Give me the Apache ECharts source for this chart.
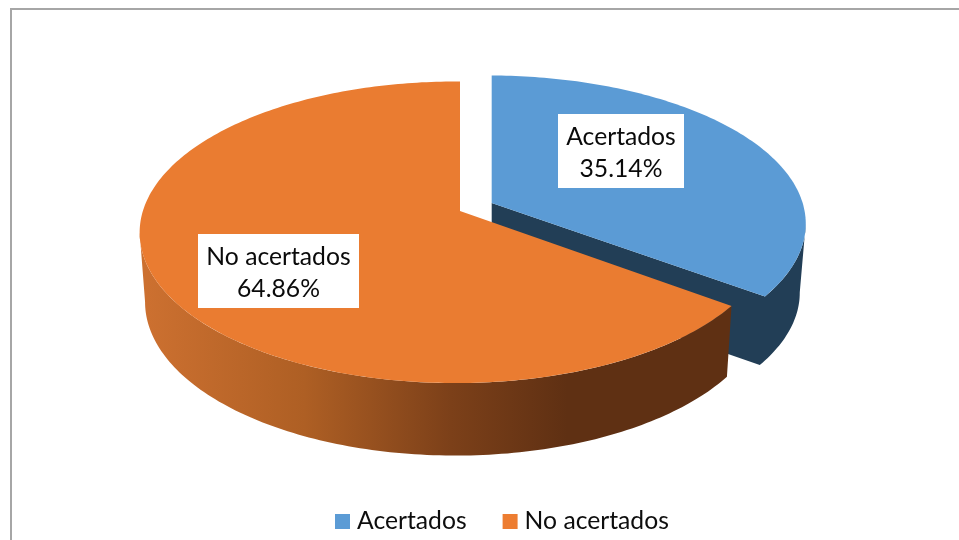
<!DOCTYPE html>
<html>
<head>
<meta charset="utf-8">
<style>html,body{margin:0;padding:0;background:#fff}#c{width:959px;height:540px}</style>
<script src="https://cdn.jsdelivr.net/npm/echarts@6/dist/echarts.min.js"></script>
</head>
<body>
<div id="c"></div>
<script>
const categories = ['Acertados', 'No acertados'];
const shares = [35.14, 64.86];
const topColors = ['#5b9bd5', '#ea7c31'];
const legendColors = ['#5b9bd5', '#ed7d31'];

// Projection of each exploded slice (perspective view of a disc).
const K = 0.141, M = 0.013;
const views = [
  {ax: 491.7, ay: 203, R: 315, S: 145.5, bx: 491.7, by: 272, bR: 309, bS: 145, wallTo: 98},
  {ax: 460, ay: 211, R: 313, S: 147.8, bx: 460, by: 280, bR: 307.7, bS: 150.8, wallTo: 262}
];
const labelBoxes = [
  {x: 558, y: 114, w: 126, h: 74},
  {x: 198, y: 234, w: 161, h: 74}
];
const FONT = 'Lato, "Open Sans", sans-serif';
const total = shares.reduce((a, b) => a + b, 0);

function project(v, deg, lower) {
  const t = deg * Math.PI / 180, u = Math.sin(t), d = -Math.cos(t);
  const w = 1 - K * d + M * u;
  return lower
    ? [v.bx + v.bR * u / w, v.by + v.bS * d / w]
    : [v.ax + v.R * u / w, v.ay + v.S * d / w];
}
function arc(v, a, b, lower) {
  const pts = [], n = Math.max(2, Math.ceil(Math.abs(b - a)));
  for (let i = 0; i <= n; i++) pts.push(project(v, a + (b - a) * i / n, lower));
  return pts;
}
function poly(points, fill) {
  return {type: 'polygon', shape: {points}, style: {fill, stroke: null}, silent: true};
}
function sliceRenderer(idx) {
  return function (params, api) {
    const value = api.value(0);
    let before = 0;
    for (let i = 0; i < idx; i++) before += shares[i];
    const a0 = before / total * 360, a1 = a0 + value / total * 360;
    const v = views[idx];
    const children = [];
    if (idx === 0) {
      children.push(poly([[v.ax, v.ay]]
        .concat(arc(v, a1, v.wallTo, false))
        .concat(arc(v, v.wallTo, a1, true))
        .concat([[v.bx, v.by]]), '#223e56'));
    } else {
      const grad = new echarts.graphic.LinearGradient(147, 0, 731, 0, [
        {offset: 0, color: '#cc7030'},
        {offset: 0.27, color: '#ae5f24'},
        {offset: 0.52, color: '#7c4019'},
        {offset: 0.72, color: '#5f3013'},
        {offset: 1, color: '#5f3013'}
      ], true);
      children.push(poly(arc(v, a0, v.wallTo, false).concat(arc(v, a0, v.wallTo, true).reverse()), grad));
    }
    children.push(poly([[v.ax, v.ay]].concat(arc(v, a0, a1, false)), topColors[idx]));
    const b = labelBoxes[idx];
    children.push({type: 'rect', shape: {x: b.x, y: b.y, width: b.w, height: b.h}, style: {fill: '#fff'}, silent: true});
    children.push({type: 'text', silent: true, style: {
      x: b.x + b.w / 2, y: b.y + b.h / 2 + 2,
      text: categories[idx] + '\n' + value.toFixed(2) + '%',
      fill: '#0a0a0a', font: '24.7px ' + FONT, lineHeight: 32, align: 'center', verticalAlign: 'middle'
    }});
    return {type: 'group', children};
  };
}

const chart = echarts.init(document.getElementById('c'), null, {renderer: 'canvas'});
chart.setOption({
  animation: false,
  backgroundColor: '#fff',
  graphic: [{
    type: 'polyline', silent: true,
    shape: {points: [[11, 540], [11, 9], [959, 9]]},
    style: {stroke: '#a6a6a6', lineWidth: 2, fill: null}
  }],
  legend: {
    left: 330, top: 504, itemWidth: 15, itemHeight: 15, itemGap: 36, icon: 'rect',
    data: categories,
    textStyle: {fontFamily: FONT, fontSize: 24.7, color: '#0d0d0d', padding: [0, 0, 0, 2]}
  },
  series: categories.map((name, i) => ({
    type: 'custom', name, coordinateSystem: 'none',
    itemStyle: {color: legendColors[i]},
    data: [[shares[i]]],
    renderItem: sliceRenderer(i),
    z: 2 + i
  }))
});
</script>
</body>
</html>
